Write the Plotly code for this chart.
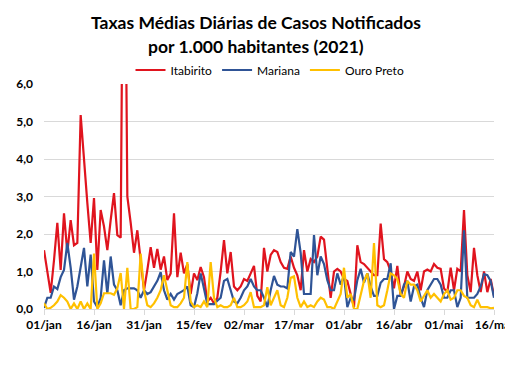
import plotly.graph_objects as go
import pandas as pd

dates = pd.date_range("2021-01-01", "2021-05-16", freq="D")

itabirito = [1.57, 1.04, 0.43, 1.3, 2.3, 1.04, 2.55, 1.5, 2.37, 1.7, 1.76, 5.17, 3.9, 2.83, 1.76, 2.96,
             1.04, 2.64, 2.2, 1.57, 2.37, 3.09, 1.97, 1.9, 14.0, 3.0, 2.3, 1.5, 2.1, 1.22, 0.5, 1.04,
             1.65, 1.1, 1.6, 1.05, 1.4, 0.77, 0.95, 2.55, 0.85, 1.5, 0.95, 1.2, 0.4, 0.95, 0.77, 1.12,
             0.85, 0.2, 0.3, 0.15, 0.3, 1.0, 1.84, 0.95, 1.52, 0.6, 0.5, 0.6, 0.8, 0.75, 0.95, 1.15,
             0.35, 0.2, 1.63, 1.0, 1.44, 1.57, 1.52, 1.25, 1.1, 1.07, 1.4, 1.1, 0.9, 0.5, 1.57, 1.0,
             1.33, 1.25, 1.4, 1.93, 1.85, 1.0, 0.3, 1.0, 1.07, 1.0, 0.8, 0.75, 0.4, 0.05, 1.7, 1.25,
             1.2, 1.1, 1.0, 0.9, 0.9, 2.28, 1.33, 1.25, 1.0, 0.55, 1.15, 0.35, 0.6, 1.0, 0.8, 0.75,
             1.0, 0.5, 1.0, 1.05, 1.0, 1.2, 1.1, 1.07, 0.55, 0.45, 1.1, 0.5, 1.07, 1.0, 2.64, 0.9,
             0.45, 1.63, 0.9, 0.45, 1.0, 0.45, 0.8, 0.35]

mariana = [0.03, 0.3, 0.3, 0.6, 0.53, 0.85, 1.04, 1.76, 1.1, 0.25, 0.6, 1.1, 1.63, 0.6, 1.45, 0.2,
           0.05, 0.3, 1.3, 0.4, 1.4, 0.65, 0.5, 0.1, 0.5, 0.55, 0.55, 0.55, 0.5, 0.3, 0.5, 0.4,
           0.45, 0.6, 0.75, 0.98, 0.5, 0.25, 0.4, 0.25, 0.4, 0.45, 0.5, 0.6, 0.1, 0.05, 0.42, 0.95,
           0.5, 0.13, 0.13, 0.13, 0.22, 0.3, 0.75, 0.8, 0.5, 0.2, 0.15, 0.3, 0.5, 0.6, 0.8, 0.6,
           0.5, 0.5, 0.3, 0.05, 0.5, 0.88, 0.65, 0.6, 0.6, 0.55, 1.52, 1.4, 2.13, 1.5, 0.4, 0.4,
           0.4, 1.97, 0.9, 1.4, 1.2, 0.77, 0.5, 0.5, 0.95, 0.65, 0.88, 0.05, 0.3, 0.25, 0.77, 1.07,
           0.7, 0.95, 0.6, 0.35, 0.35, 0.7, 0.8, 0.8, 1.22, 0.0, 0.35, 0.35, 0.65, 0.75, 0.2, 0.6,
           0.65, 0.3, 0.05, 0.5, 0.65, 0.8, 0.8, 0.65, 0.3, 0.3, 0.5, 0.5, 0.05, 0.3, 2.1, 0.3,
           0.3, 0.3, 0.4, 0.6, 0.93, 0.9, 0.75, 0.3]

ouro_preto = [0.15, 0.0, 0.03, 0.1, 0.2, 0.37, 0.3, 0.2, 0.0, 0.15, 0.0, 0.2, 0.0, 0.15, 0.0, 1.48,
              0.0, 0.15, 0.42, 0.42, 0.42, 0.38, 0.55, 0.96, 0.0, 1.1, 0.0, 0.0, 0.05, 1.48, 0.5, 0.1,
              0.05, 0.15, 0.3, 0.5, 0.9, 0.5, 0.1, 0.05, 0.05, 0.15, 0.3, 1.25, 0.2, 0.05, 0.1, 0.05,
              0.2, 0.05, 1.25, 0.3, 0.05, 0.1, 0.05, 0.05, 0.1, 0.3, 0.05, 0.05, 0.1, 0.2, 0.45, 0.05,
              0.05, 0.05, 0.1, 0.58, 0.1, 0.3, 0.5, 0.1, 0.05, 0.3, 0.83, 0.87, 0.3, 0.05, 0.2, 0.05,
              0.1, 0.05, 0.2, 0.3, 0.25, 0.05, 0.05, 0.0, 0.2, 0.4, 1.1, 0.3, 0.4, 0.0, 0.0, 0.4,
              0.75, 0.95, 0.3, 1.76, 0.1, 0.05, 0.1, 0.5, 0.95, 0.9, 0.8, 0.4, 0.3, 0.75, 0.65, 0.65,
              0.5, 0.2, 0.35, 0.5, 0.3, 0.4, 0.3, 0.2, 0.4, 0.5, 0.25, 0.3, 0.5, 0.5, 0.35, 0.3,
              0.1, 0.05, 0.25, 0.05, 0.05, 0.05, 0.02, 0.03]

tick_dates = ["2021-01-01", "2021-01-16", "2021-01-31", "2021-02-15", "2021-03-02",
              "2021-03-17", "2021-04-01", "2021-04-16", "2021-05-01", "2021-05-16"]
tick_labels = ["01/jan", "16/jan", "31/jan", "15/fev", "02/mar", "17/mar", "01/abr",
               "16/abr", "01/mai", "16/mai"]
y_ticks = [0, 1, 2, 3, 4, 5, 6]
y_labels = ["0,0", "1,0", "2,0", "3,0", "4,0", "5,0", "6,0"]
title_lines = ["Taxas Médias Diárias de Casos Notificados", "por 1.000 habitantes (2021)"]

FONT = "Lato"
fig = go.Figure()
for name, vals, col in [("Itabirito", itabirito, "#E0141E"),
                        ("Mariana", mariana, "#2F5496"),
                        ("Ouro Preto", ouro_preto, "#FFC000")]:
    fig.add_trace(go.Scatter(x=dates, y=vals, mode="lines", name=name,
                             line=dict(color=col, width=2.2)))

# page is offset by the 8px body margin
OFF = 8
W, H = 513 - OFF, 367 - OFF
L = 44 - OFF
R = W - (494 - OFF)
T = 84 - OFF
B = H - (309 - OFF)
pw, ph = W - L - R, H - T - B


def px(page_x):
    return (page_x - OFF - L) / pw


def py(page_y):
    return (T + ph - (page_y - OFF)) / ph


fig.update_layout(
    width=W, height=H,
    margin=dict(l=L, r=R, t=T, b=B, autoexpand=False),
    paper_bgcolor="white", plot_bgcolor="white",
    font=dict(family=FONT, color="#000000"),
    legend=dict(orientation="h", x=px(270), xanchor="center",
                y=py(70), yanchor="middle",
                font=dict(size=12, family=FONT, color="#000000"),
                bgcolor="rgba(0,0,0,0)", itemwidth=30),
    showlegend=True,
)
for txt, ypix in zip(title_lines, [22, 46]):
    fig.add_annotation(text="<b>%s</b>" % txt, xref="paper", yref="paper",
                       x=px(256), y=py(ypix), xanchor="center", yanchor="middle",
                       showarrow=False, font=dict(size=17.5, family=FONT, color="#000000"))
fig.update_xaxes(range=["2021-01-01", "2021-05-16"], tickvals=tick_dates,
                 ticktext=["<b>%s</b>" % t for t in tick_labels],
                 tickfont=dict(size=12, family=FONT, color="#000000"),
                 showgrid=False, showline=True, linecolor="#D9D9D9", linewidth=1,
                 ticks="outside", ticklen=5, tickcolor="#D9D9D9", zeroline=False,
                 automargin=False, ticklabeloverflow="allow")
fig.update_yaxes(range=[0, 6], tickvals=y_ticks,
                 ticktext=["<b>%s</b>" % t for t in y_labels],
                 tickfont=dict(size=12, family=FONT, color="#000000"),
                 showgrid=True, gridcolor="#D9D9D9", gridwidth=1,
                 showline=False, zeroline=False, ticks="", ticklabelstandoff=10,
                 automargin=False)
fig.write_html("out.html")
